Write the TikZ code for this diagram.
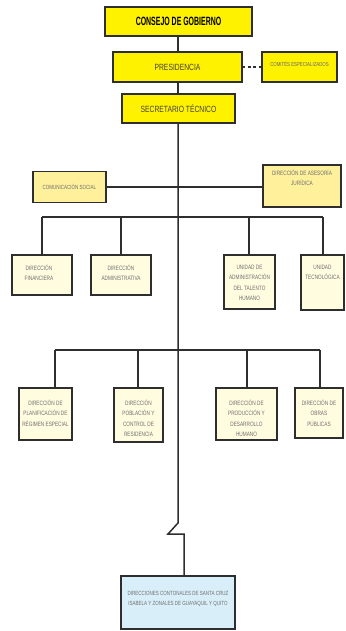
\documentclass[tikz,border=0pt]{standalone}
\usepackage{fontspec}
\setmainfont{Liberation Sans}[FakeStretch=0.75]
\newfontfamily\boldnarrow{Liberation Sans}[FakeStretch=0.58]
\definecolor{topyellow}{HTML}{FFF200}
\definecolor{midyellow}{HTML}{FFF09C}
\definecolor{paleyellow}{HTML}{FFFCE0}
\definecolor{paleblue}{HTML}{D8EEF9}
\definecolor{linegray}{HTML}{2E2E2E}
\definecolor{txtgray}{HTML}{6E6E6E}
\begin{document}
\begin{tikzpicture}[x=1pt,y=1pt,
  box/.style={draw=linegray,line width=1.5pt,inner sep=0pt,outer sep=0pt,anchor=north west},
  ybox/.style={box,fill=topyellow},
  mbox/.style={box,fill=midyellow},
  pbox/.style={box,fill=paleyellow},
  bbox/.style={box,fill=paleblue},
  small/.style={font=\fontsize{6.3}{10.3}\selectfont,text=txtgray,align=center,inner sep=0pt},
  tlabel/.style={small,anchor=north},
  conn/.style={draw=linegray,line width=1.5pt},
  dconn/.style={conn,dashed,dash pattern=on 3pt off 2.5pt}]
\useasboundingbox (0,0) rectangle (345,-631);
\fill[white] (0,0) rectangle (345,-631);

% top boxes
\node[ybox,minimum width=147pt,minimum height=29pt] (consejo) at (105,-7)
  {\boldnarrow\bfseries\fontsize{12}{13}\selectfont CONSEJO DE GOBIERNO};
\node[ybox,minimum width=129pt,minimum height=30pt] (pres) at (113,-52)
  {\fontsize{9}{10}\selectfont\color{black!75}PRESIDENCIA};
\node[ybox,minimum width=75pt,minimum height=30pt] (com) at (262,-52) {};
\node[small,font=\fontsize{5.8}{10}\selectfont,text=black!60] (comT) at ([yshift=3pt]com.center) {COMITÉS ESPECIALIZADOS};
\node[ybox,minimum width=113pt,minimum height=29pt] (secr) at (122,-94)
  {\fontsize{9}{10}\selectfont\color{black!75}SECRETARIO TÉCNICO};

% staff boxes
\node[mbox,minimum width=73pt,minimum height=31pt] (comun) at (33,-171.5)
  {\fontsize{6}{10}\selectfont\color{txtgray}COMUNICACIÓN SOCIAL};
\node[mbox,minimum width=78pt,minimum height=42pt] (ases) at (263,-165) {};
\node[tlabel] (asesT) at ([yshift=-5pt]ases.north) {DIRECCIÓN DE ASESORÍA\\JURÍDICA};

% row 2
\node[pbox,minimum width=60pt,minimum height=40pt] (fin) at (12,-255) {};
\node[tlabel] (finT) at ([xshift=-3pt,yshift=-10pt]fin.north) {DIRECCIÓN\\FINANCIERA};
\node[pbox,minimum width=60pt,minimum height=40pt] (adm) at (91,-255) {};
\node[tlabel] (admT) at ([yshift=-10pt]adm.north) {DIRECCIÓN\\ADMINISTRATIVA};
\node[pbox,minimum width=51pt,minimum height=54pt] (tal) at (224,-255) {};
\node[tlabel] (talT) at ([yshift=-10pt]tal.north) {UNIDAD DE\\ADMINISTRACIÓN\\DEL TALENTO\\HUMANO};
\node[pbox,minimum width=43pt,minimum height=55pt] (tec) at (301,-255) {};
\node[tlabel] (tecT) at ([yshift=-10pt]tec.north) {UNIDAD\\TECNOLÓGICA};

% row 3
\node[pbox,minimum width=53pt,minimum height=52pt] (plan) at (19,-388) {};
\node[tlabel] (planT) at ([yshift=-12pt]plan.north) {DIRECCIÓN DE\\PLANIFICACIÓN DE\\RÉGIMEN ESPECIAL};
\node[pbox,minimum width=49pt,minimum height=54pt] (pob) at (114,-388) {};
\node[tlabel] (pobT) at ([yshift=-12pt]pob.north) {DIRECCIÓN\\POBLACIÓN Y\\CONTROL DE\\RESIDENCIA};
\node[pbox,minimum width=61pt,minimum height=52pt] (prod) at (216,-388) {};
\node[tlabel] (prodT) at ([yshift=-12pt]prod.north) {DIRECCIÓN DE\\PRODUCCIÓN Y\\DESARROLLO\\HUMANO};
\node[pbox,minimum width=48pt,minimum height=50pt] (obras) at (295,-388) {};
\node[tlabel] (obrasT) at ([yshift=-12pt]obras.north) {DIRECCIÓN DE\\OBRAS\\PÚBLICAS};

% bottom
\node[bbox,minimum width=114pt,minimum height=53pt] (dir) at (121,-576) {};
\node[tlabel,font=\fontsize{6}{10}\selectfont] (dirT) at ([yshift=-15pt]dir.north) {DIRECCIONES CONTONALES DE SANTA CRUZ\\ISABELA Y ZONALES DE GUAYAQUIL Y QUITO};

% coordinates
\coordinate (b1L) at (42,-217);
\coordinate (b1a) at (121,-217);
\coordinate (b1b) at (249,-217);
\coordinate (b1R) at (323,-217);
\coordinate (b2L) at (55,-350);
\coordinate (b2a) at (138,-350);
\coordinate (b2b) at (247,-350);
\coordinate (b2R) at (320,-350);
\coordinate (brk1) at (178,-523);
\coordinate (brk2) at (168,-534);
\coordinate (brk3) at (184,-534);

% connectors
\draw[conn] (consejo.south -| 178,0) -- (pres.north -| 178,0);
\draw[conn] (pres.south -| 178,0) -- (secr.north -| 178,0);
\draw[dconn] (pres.east) -- (com.west);
\draw[conn] (secr.south -| 178,0) -- (brk1) -- (brk2) -- (brk3) -- (brk3 |- dir.north);
\draw[conn] (comun.east) -- (ases.west |- comun.east);
\draw[conn] (b1L) -- (b1R);
\draw[conn] (b1L) -- (b1L |- fin.north);
\draw[conn] (b1a) -- (b1a |- adm.north);
\draw[conn] (b1b) -- (b1b |- tal.north);
\draw[conn] (b1R) -- (b1R |- tec.north);
\draw[conn] (b2L) -- (b2R);
\draw[conn] (b2L) -- (b2L |- plan.north);
\draw[conn] (b2a) -- (b2a |- pob.north);
\draw[conn] (b2b) -- (b2b |- prod.north);
\draw[conn] (b2R) -- (b2R |- obras.north);
\end{tikzpicture}
\end{document}
